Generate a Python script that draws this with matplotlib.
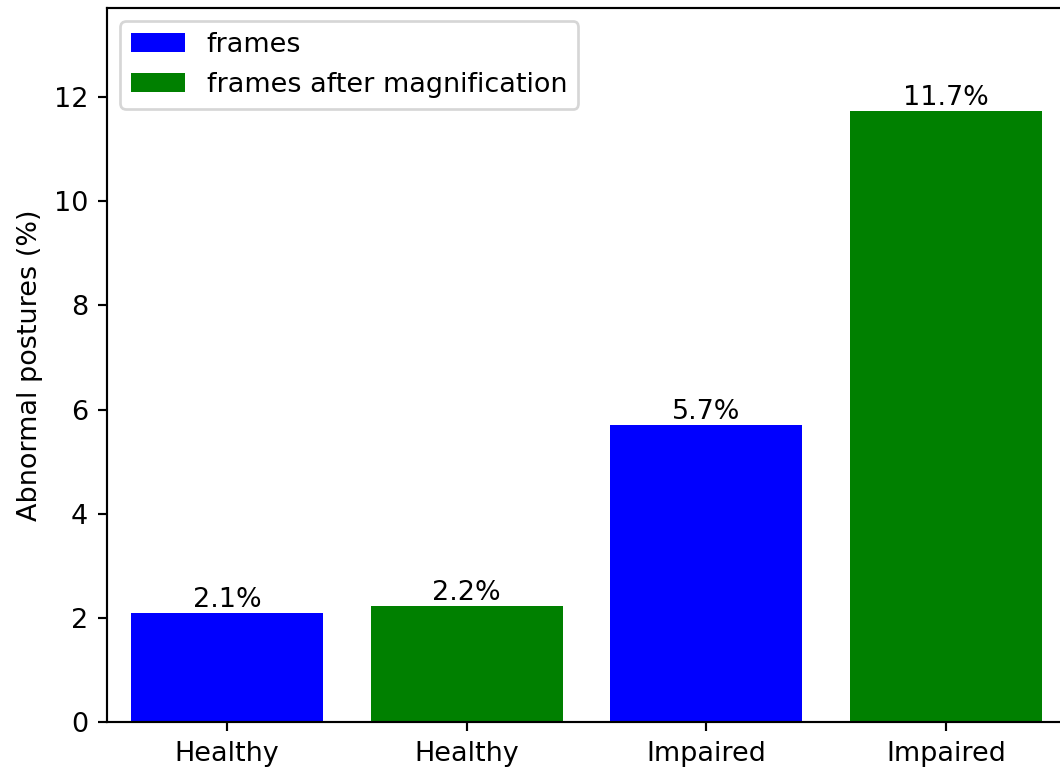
import matplotlib
matplotlib.use('Agg')
import matplotlib.pyplot as plt

categories = ['Healthy', 'Healthy', 'Impaired', 'Impaired']
values = [2.1, 2.22, 5.7, 11.73]
labels = ['2.1%', '2.2%', '5.7%', '11.7%']
colors = ['blue', 'green', 'blue', 'green']

dpi = 194
fig = plt.figure(figsize=(1060 / dpi, 774 / dpi), dpi=dpi)
ax = fig.add_axes([107 / 1060, 52 / 774, 959 / 1060, 714 / 774])

x = range(len(categories))
bars = ax.bar(x, values, color=colors)
ax.set_xticks(list(x))
ax.set_xticklabels(categories)
ax.bar_label(bars, labels=labels)
ax.set_xlim(-0.5, 3.5)
ax.set_ylim(0, 13.71)
ax.set_ylabel('Abnormal postures (%)')
ax.legend([bars[0], bars[1]], ['frames', 'frames after magnification'], loc='upper left')

fig.savefig('out.png', dpi=dpi)
